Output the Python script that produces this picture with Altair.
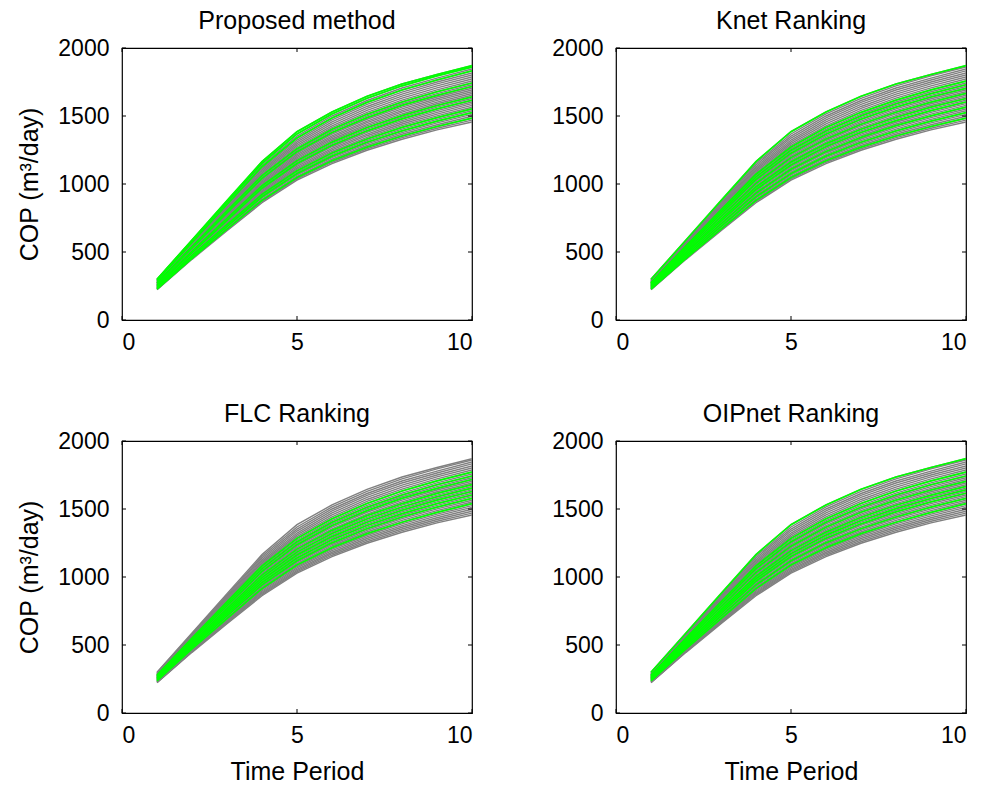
import altair as alt
import pandas as pd

# Time periods
periods = [1, 2, 3, 4, 5, 6, 7, 8, 9, 10]

# Ensemble of COP curves (m3/day), one list per realization
curves = [
    [300, 588, 878, 1165, 1385, 1530, 1645, 1735, 1805, 1870],
    [296, 582, 868, 1152, 1368, 1515, 1630, 1722, 1795, 1860],
    [292, 576, 858, 1140, 1352, 1500, 1614, 1706, 1779, 1846],
    [289, 570, 850, 1127, 1338, 1486, 1600, 1691, 1765, 1832],
    [286, 565, 842, 1115, 1323, 1471, 1585, 1676, 1750, 1816],
    [284, 560, 833, 1104, 1310, 1456, 1570, 1661, 1736, 1802],
    [281, 555, 826, 1093, 1297, 1442, 1556, 1646, 1721, 1787],
    [279, 550, 818, 1082, 1284, 1428, 1541, 1632, 1707, 1772],
    [276, 545, 810, 1072, 1272, 1415, 1527, 1617, 1692, 1757],
    [274, 540, 802, 1062, 1260, 1402, 1513, 1603, 1678, 1743],
    [271, 536, 795, 1052, 1249, 1390, 1501, 1590, 1665, 1730],
    [269, 531, 788, 1042, 1238, 1378, 1488, 1578, 1652, 1717],
    [267, 527, 781, 1033, 1227, 1366, 1476, 1565, 1640, 1704],
    [264, 522, 774, 1024, 1216, 1354, 1463, 1552, 1627, 1691],
    [262, 518, 767, 1014, 1205, 1343, 1451, 1540, 1615, 1679],
    [260, 513, 760, 1005, 1194, 1331, 1439, 1528, 1602, 1666],
    [257, 509, 753, 996, 1183, 1320, 1427, 1515, 1590, 1653],
    [255, 505, 747, 987, 1172, 1308, 1415, 1503, 1577, 1641],
    [253, 500, 740, 978, 1162, 1297, 1403, 1491, 1565, 1629],
    [250, 496, 733, 969, 1151, 1285, 1391, 1479, 1552, 1616],
    [248, 492, 727, 960, 1140, 1274, 1379, 1466, 1540, 1603],
    [246, 488, 720, 951, 1130, 1262, 1367, 1454, 1527, 1591],
    [243, 483, 714, 942, 1119, 1251, 1355, 1441, 1514, 1578],
    [241, 479, 707, 933, 1109, 1239, 1343, 1429, 1501, 1565],
    [239, 475, 701, 924, 1098, 1228, 1331, 1416, 1488, 1552],
    [236, 471, 694, 915, 1088, 1216, 1319, 1403, 1475, 1539],
    [234, 466, 688, 906, 1077, 1205, 1307, 1391, 1462, 1525],
    [232, 462, 681, 897, 1067, 1194, 1295, 1378, 1449, 1512],
    [229, 458, 675, 888, 1057, 1182, 1283, 1366, 1436, 1498],
    [227, 454, 668, 880, 1047, 1171, 1271, 1353, 1423, 1484],
    [225, 450, 662, 871, 1038, 1160, 1259, 1341, 1410, 1470],
    [222, 446, 656, 862, 1029, 1150, 1248, 1329, 1398, 1456],
]

# Panel titles and the realizations each method selects (drawn green)
panel_titles = ["Proposed method", "Knet Ranking", "FLC Ranking", "OIPnet Ranking"]
selected = [
    [0, 1, 3, 9, 11, 17, 19, 24, 26, 29],
    [0, 8, 10, 12, 15, 18, 20, 23, 26, 29],
    [7, 9, 11, 14, 16, 18, 20, 22, 25],
    [0, 7, 9, 12, 15, 17, 19, 22, 25],
]

x_ticks = [0, 5, 10]
y_ticks = [0, 500, 1000, 1500, 2000]

FONT = "Liberation Sans"
W, H = 350, 272
TICK = 4

rows = []
for i, c in enumerate(curves):
    for p, v in zip(periods, c):
        rows.append({"curve": i, "period": p, "cop": v})
df = pd.DataFrame(rows)
xt = pd.DataFrame({"t": x_ticks})
yt = pd.DataFrame({"t": y_ticks})


def panel(k, show_ytitle, show_xtitle):
    xs = alt.Scale(domain=[0, 10], nice=False)
    ys = alt.Scale(domain=[0, 2000], nice=False)
    xax = alt.Axis(values=x_ticks, title="Time Period" if show_xtitle else None,
                   format="d", grid=False, domain=False, ticks=False, labelPadding=11,
                   labelFontSize=23, titleFontSize=25, titleFontWeight="normal",
                   titlePadding=12, labelColor="black", titleColor="black",
                   labelFont=FONT, titleFont=FONT)
    yax = alt.Axis(values=y_ticks, title="COP (m³/day)" if show_ytitle else None,
                   format="d", grid=False, domain=False, ticks=False, labelPadding=13,
                   labelFontSize=23, titleFontSize=25, titleFontWeight="normal",
                   titlePadding=15, labelColor="black", titleColor="black",
                   labelFont=FONT, titleFont=FONT)
    gray = alt.Chart(df).mark_line(color="#808080", strokeWidth=1.4, clip=True).encode(
        x=alt.X("period:Q", scale=xs, axis=xax),
        y=alt.Y("cop:Q", scale=ys, axis=yax),
        detail="curve:N",
    )
    green = alt.Chart(df[df["curve"].isin(selected[k])]).mark_line(
        color="#00FF00", strokeWidth=1.7, clip=True).encode(
        x=alt.X("period:Q", scale=xs),
        y=alt.Y("cop:Q", scale=ys),
        detail="curve:N",
    )
    tb = alt.Chart(xt).mark_rule(color="black").encode(
        x=alt.X("t:Q", scale=xs), y=alt.value(H), y2=alt.value(H - TICK))
    tt = alt.Chart(xt).mark_rule(color="black").encode(
        x=alt.X("t:Q", scale=xs), y=alt.value(0), y2=alt.value(TICK))
    tl = alt.Chart(yt).mark_rule(color="black").encode(
        y=alt.Y("t:Q", scale=ys), x=alt.value(0), x2=alt.value(TICK))
    tr = alt.Chart(yt).mark_rule(color="black").encode(
        y=alt.Y("t:Q", scale=ys), x=alt.value(W), x2=alt.value(W - TICK))
    return alt.layer(gray, green, tb, tt, tl, tr).properties(
        width=W, height=H,
        title=alt.TitleParams(panel_titles[k], fontSize=25, fontWeight="normal",
                              font=FONT, color="black", offset=3),
    )


chart = alt.concat(
    panel(0, True, False), panel(1, False, False),
    panel(2, True, True), panel(3, False, True),
    columns=2, spacing={"row": 121, "column": 144}, bounds="flush",
).configure_view(
    stroke="black", strokeWidth=1.2
).properties(
    padding={"left": 9, "top": 0, "right": 0, "bottom": 0},
    background="white",
)

chart.save("out.html", embed_options={"renderer": "svg", "actions": False})
